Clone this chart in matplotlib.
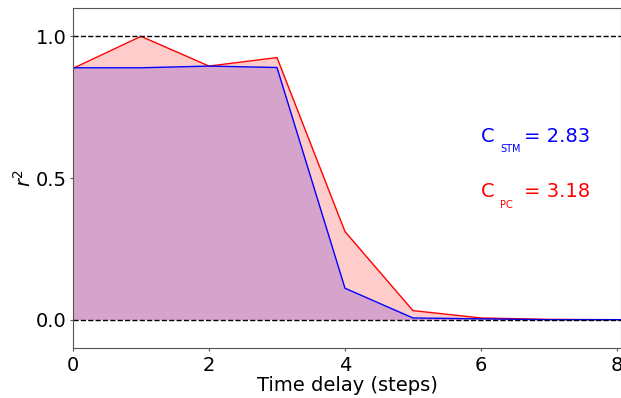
import matplotlib
matplotlib.use('Agg')
from matplotlib import pyplot as plt

delays = [0, 1, 2, 3, 4, 5, 6, 7, 8, 9]
r2_stm = [0.889, 0.889, 0.895, 0.890, 0.111, 0.006, 0.003, 0.0, 0.0, 0.0]
r2_pc = [0.887, 1.0, 0.895, 0.925, 0.311, 0.032, 0.006, 0.001, 0.0, 0.0]
c_stm = 2.83
c_pc = 3.18

fig = plt.figure(figsize=(6.21, 3.98), dpi=100)
ax = fig.add_axes([0.1176, 0.1256, 0.8824, 0.8543])

ax.fill_between(delays, r2_stm, color='blue', alpha=0.2, linewidth=0)
ax.fill_between(delays, r2_pc, color='red', alpha=0.2, linewidth=0)
ax.plot(delays, r2_pc, color='red', linewidth=1)
ax.plot(delays, r2_stm, color='blue', linewidth=1)
ax.axhline(1.0, color='black', linestyle='--', linewidth=1)
ax.axhline(0.0, color='black', linestyle='--', linewidth=1)

# capacity labels: main letter, small subscript, value
for name, val, col, yb in [('STM', c_stm, 'blue', 0.628), ('PC', c_pc, 'red', 0.432)]:
    ax.text(6.0, yb, 'C', color=col, fontsize=14, va='baseline')
    ax.text(6.28, yb - 0.037, name, color=col, fontsize=7, va='baseline')
    ax.text(6.63, yb, '= %.2f' % val, color=col, fontsize=14, va='baseline')

ax.set_xlim(0, 8.06)
ax.set_ylim(-0.1, 1.1)
ax.set_xticks([0, 2, 4, 6, 8])
ax.set_yticks([0.0, 0.5, 1.0])
ax.tick_params(labelsize=14, color='#555555', length=2.5)
ax.tick_params(axis='x', pad=3.5)
ax.tick_params(axis='y', pad=2)
for s in ax.spines.values():
    s.set_color('#555555')
ax.set_xlabel('Time delay (steps)', fontsize=14, labelpad=0.5)
ax.set_ylabel('$r^2$', fontsize=14, labelpad=1)

fig.savefig('out.png', dpi=100)
